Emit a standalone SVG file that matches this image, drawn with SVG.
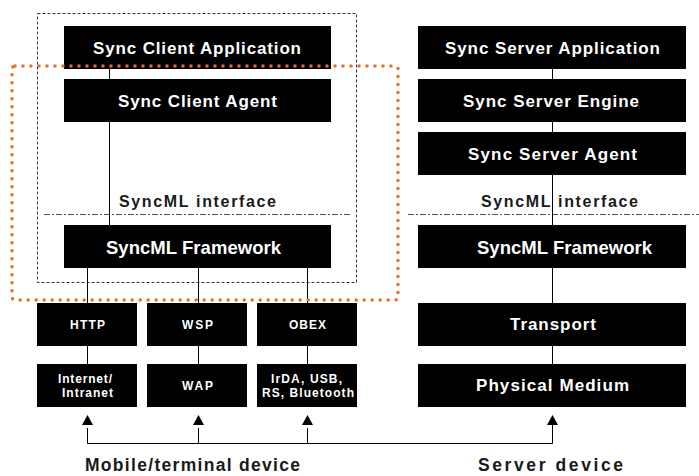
<svg xmlns="http://www.w3.org/2000/svg" width="699" height="476" viewBox="0 0 699 476">
<style>
.box{fill:#000}
.t{font-family:"Liberation Sans",Arial,sans-serif;font-weight:bold;fill:#fff;text-anchor:middle}
.big{font-size:17px}
.fw{font-size:18.5px}
.sm{font-size:12px}
.lbl{font-family:"Liberation Sans",Arial,sans-serif;font-weight:bold;fill:#1a1a1a;text-anchor:middle;font-size:16px}
.dev{font-size:17.5px}
.conn{stroke:#000;stroke-width:1;fill:none}
.iface{stroke:#555;stroke-width:1;stroke-dasharray:6 2 2 2;fill:none}
</style>
<rect width="699" height="476" fill="#fff"/>
<!-- boundary box -->
<rect x="37.5" y="13.5" width="319" height="269" fill="none" stroke="#333" stroke-width="1" stroke-dasharray="3 2"/>
<!-- interface lines -->
<line class="iface" x1="44" y1="214.5" x2="350" y2="214.5"/>
<line class="iface" x1="408" y1="214.5" x2="699" y2="214.5"/>
<g id="connectors">
<line class="conn" x1="109.5" y1="69" x2="109.5" y2="79"/>
<line class="conn" x1="109.5" y1="122" x2="109.5" y2="225"/>
<line class="conn" x1="87.5" y1="268" x2="87.5" y2="303"/>
<line class="conn" x1="198.5" y1="268" x2="198.5" y2="303"/>
<line class="conn" x1="307.5" y1="268" x2="307.5" y2="303"/>
<line class="conn" x1="87.5" y1="346" x2="87.5" y2="364"/>
<line class="conn" x1="198.5" y1="346" x2="198.5" y2="364"/>
<line class="conn" x1="307.5" y1="346" x2="307.5" y2="364"/>
<line class="conn" x1="552.5" y1="69" x2="552.5" y2="303"/>
<line class="conn" x1="552.5" y1="346" x2="552.5" y2="364"/>
<path class="conn" d="M87.5 428 V443.5 H552.5 V425"/>
<line class="conn" x1="198.5" y1="428" x2="198.5" y2="443"/>
<line class="conn" x1="307.5" y1="428" x2="307.5" y2="443"/>
<polygon points="87.5,415 82,425 93,425" fill="#000"/>
<polygon points="198.5,415 193,425 204,425" fill="#000"/>
<polygon points="307.5,415 302,425 313,425" fill="#000"/>
<polygon points="552.5,415 547,425 558,425" fill="#000"/>
</g>
<!-- client -->
<g id="sync-client-application"><rect class="box" x="64" y="26" width="267" height="43"/><text class="t big" x="197" y="54" textLength="208" lengthAdjust="spacing">Sync Client Application</text></g>
<g id="sync-client-agent"><rect class="box" x="64" y="79" width="267" height="43"/><text class="t big" x="197.5" y="107" textLength="159" lengthAdjust="spacing">Sync Client Agent</text></g>
<text class="lbl" x="197.5" y="207" textLength="157" lengthAdjust="spacing">SyncML interface</text>
<g id="client-framework"><rect class="box" x="64" y="225" width="267" height="43"/><text class="t fw" x="193.5" y="254" textLength="175" lengthAdjust="spacing">SyncML Framework</text></g>
<g id="http"><rect class="box" x="37" y="303" width="100" height="43"/><text class="t sm" x="87.5" y="329" textLength="35" lengthAdjust="spacing">HTTP</text></g>
<g id="wsp"><rect class="box" x="147" y="303" width="100" height="43"/><text class="t sm" x="197.5" y="329" textLength="31" lengthAdjust="spacing">WSP</text></g>
<g id="obex"><rect class="box" x="257" y="303" width="100" height="43"/><text class="t sm" x="307.5" y="329" textLength="37" lengthAdjust="spacing">OBEX</text></g>
<g id="internet"><rect class="box" x="37" y="364" width="100" height="43"/><text class="t sm" x="85" y="383" textLength="54" lengthAdjust="spacing">Internet/</text><text class="t sm" x="87.5" y="397" textLength="51" lengthAdjust="spacing">Intranet</text></g>
<g id="wap"><rect class="box" x="147" y="364" width="100" height="43"/><text class="t sm" x="197.5" y="390" textLength="31" lengthAdjust="spacing">WAP</text></g>
<g id="irda"><rect class="box" x="257" y="364" width="100" height="43"/><text class="t sm" x="306.5" y="383" textLength="71" lengthAdjust="spacing">IrDA, USB,</text><text class="t sm" x="308" y="397" textLength="92" lengthAdjust="spacing">RS, Bluetooth</text></g>
<!-- server -->
<g id="sync-server-application"><rect class="box" x="418" y="26" width="268" height="43"/><text class="t big" x="552.5" y="54" textLength="215" lengthAdjust="spacing">Sync Server Application</text></g>
<g id="sync-server-engine"><rect class="box" x="418" y="79" width="268" height="43"/><text class="t big" x="551" y="107" textLength="176" lengthAdjust="spacing">Sync Server Engine</text></g>
<g id="sync-server-agent"><rect class="box" x="418" y="132" width="268" height="43"/><text class="t big" x="552.5" y="160" textLength="169" lengthAdjust="spacing">Sync Server Agent</text></g>
<text class="lbl" x="559.5" y="207" textLength="157" lengthAdjust="spacing">SyncML interface</text>
<g id="server-framework"><rect class="box" x="418" y="225" width="268" height="43"/><text class="t fw" x="564.5" y="254" textLength="175" lengthAdjust="spacing">SyncML Framework</text></g>
<g id="transport"><rect class="box" x="418" y="303" width="268" height="43"/><text class="t big" x="553" y="330" textLength="86" lengthAdjust="spacing">Transport</text></g>
<g id="physical-medium"><rect class="box" x="418" y="364" width="268" height="43"/><text class="t big" x="552.5" y="391" textLength="153" lengthAdjust="spacing">Physical Medium</text></g>
<!-- orange dotted group boundary -->
<rect x="12" y="66" width="386" height="234" rx="3" fill="none" stroke="#f26a1b" stroke-width="3.5" stroke-linecap="round" stroke-dasharray="0 8"/>
<text class="lbl dev" x="192.5" y="471" textLength="215" lengthAdjust="spacing">Mobile/terminal device</text>
<text class="lbl dev" x="550.5" y="471" textLength="145" lengthAdjust="spacing">Server device</text>
</svg>
